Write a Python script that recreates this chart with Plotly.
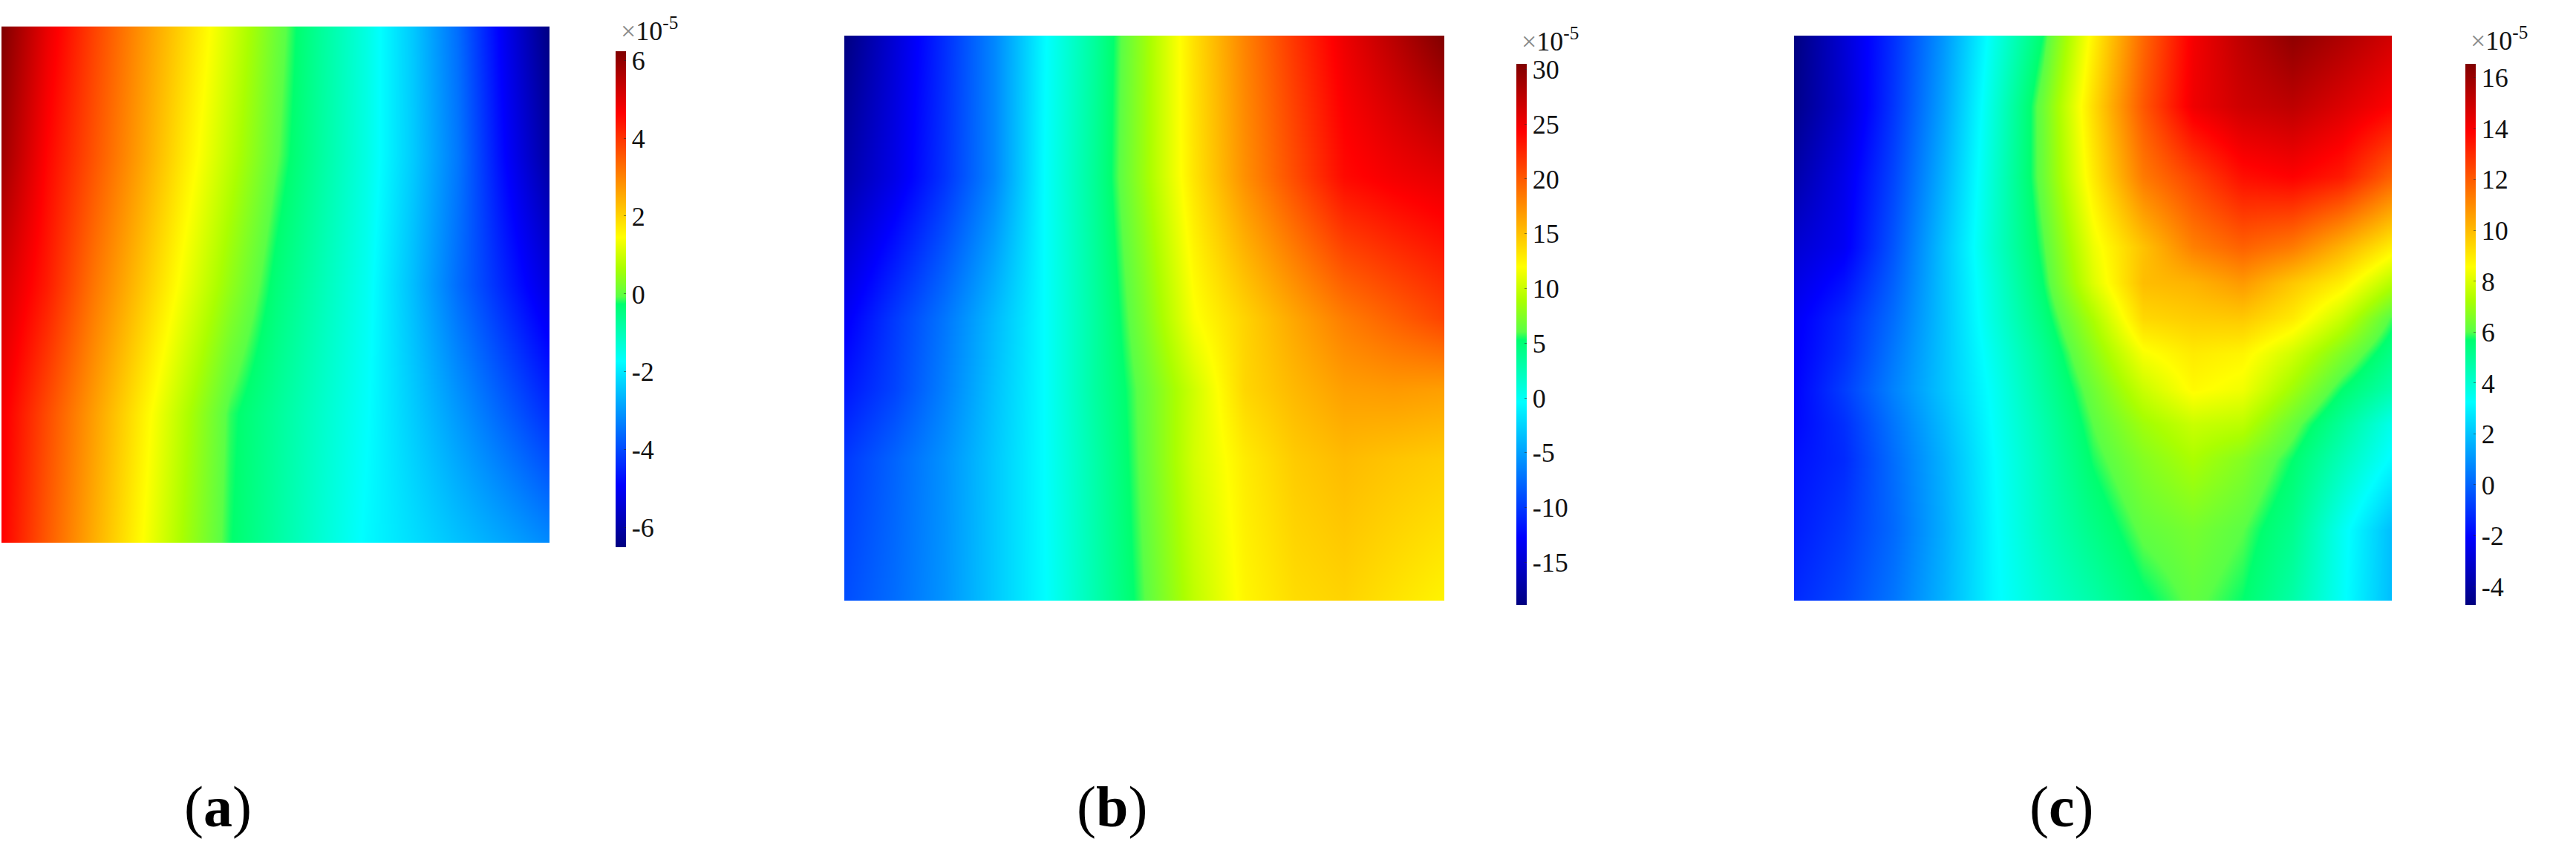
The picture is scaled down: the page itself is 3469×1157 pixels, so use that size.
import plotly.graph_objects as go

W, H = 3469, 1157

# Grid positions across each map (fraction of the map width / height, top to bottom)
cols = [0, 0.0833, 0.1667, 0.25, 0.3333, 0.4167, 0.5, 0.5833, 0.6667, 0.75, 0.8333, 0.9167, 1]
rows_a = [0, 0.25, 0.5, 0.75, 1]
rows_b = [0, 0.25, 0.5, 0.625, 0.75, 1]
rows_c = [0, 0.125, 0.25, 0.375, 0.4375, 0.5, 0.5625, 0.625, 0.6875, 0.75, 0.875, 1]

# Field values, in units of 1e-5
field_a = [
    [6.23, 4.91, 3.85, 2.87, 1.97, 1.05, 0.11, -0.70, -1.45, -2.41, -3.57, -5.10, -6.50],
    [5.85, 4.60, 3.63, 2.68, 1.72, 0.83, -0.03, -0.76, -1.47, -2.38, -3.43, -4.88, -6.12],
    [5.21, 4.31, 3.20, 2.25, 1.32, 0.43, -0.36, -0.98, -1.60, -2.55, -3.57, -4.48, -5.35],
    [4.77, 3.71, 2.69, 1.71, 0.76, -0.17, -0.68, -1.19, -1.70, -2.36, -3.02, -3.69, -4.34],
    [4.64, 3.53, 2.50, 1.53, 0.60, -0.24, -0.77, -1.29, -1.79, -2.13, -2.49, -2.83, -3.19],
]
field_b = [
    [-18.9, -14.75, -10.55, -6.20, -0.57, 3.53, 8.27, 13.51, 18.0, 21.8, 25.2, 27.8, 30.5],
    [-16.9, -13.9, -10.3, -6.2, -0.38, 3.77, 8.42, 13.26, 17.4, 20.7, 23.9, 24.9, 25.6],
    [-13.2, -10.0, -7.04, -3.73, -0.38, 3.33, 7.28, 11.8, 14.1, 16.3, 18.3, 19.7, 21.1],
    [-11.74, -9.51, -6.55, -3.34, -0.38, 3.33, 6.54, 10.25, 13.95, 15.43, 16.67, 16.92, 16.67],
    [-10.0, -7.93, -5.71, -3.04, -0.38, 2.98, 6.44, 10.4, 12.9, 14.5, 15.3, 14.8, 14.4],
    [-9.02, -7.49, -5.56, -3.0, -0.47, 2.74, 6.0, 9.65, 12.4, 13.65, 14.1, 13.3, 12.5],
]
field_c = [
    [-4.73, -2.96, -1.09, 1.06, 3.55, 5.72, 8.85, 11.74, 14.10, 15.29, 16.23, 15.59, 14.85],
    [-4.52, -3.03, -0.96, 1.29, 3.85, 6.31, 9.31, 12.08, 14.21, 14.95, 15.27, 14.63, 13.89],
    [-3.88, -2.52, -0.64, 1.61, 4.00, 6.27, 8.99, 11.36, 12.49, 13.61, 13.89, 13.36, 11.87],
    [-3.03, -2.28, -0.30, 1.95, 4.08, 5.91, 8.31, 9.85, 11.23, 11.87, 11.34, 10.17, 8.89],
    [-2.64, -1.75, -0.05, 1.97, 3.89, 5.70, 8.04, 9.95, 10.17, 10.70, 9.74, 8.89, 7.40],
    [-2.28, -1.26, 0.21, 1.97, 3.78, 5.40, 7.27, 9.38, 9.62, 9.70, 8.99, 7.68, 5.91],
    [-2.18, -1.11, 0.44, 2.00, 3.57, 5.06, 6.76, 8.46, 8.99, 8.78, 7.83, 6.55, 5.27],
    [-2.07, -0.81, 0.65, 2.02, 3.40, 4.85, 6.31, 7.74, 8.68, 8.36, 7.08, 5.70, 4.63],
    [-1.96, -1.11, 0.38, 1.80, 3.31, 4.63, 6.02, 7.08, 7.72, 7.51, 6.23, 4.95, 3.57],
    [-1.75, -1.22, 0.21, 1.63, 3.21, 4.48, 5.78, 6.65, 7.24, 6.65, 5.70, 4.42, 3.14],
    [-1.54, -0.90, 0.12, 1.53, 3.14, 4.31, 5.27, 6.12, 6.44, 6.02, 5.17, 3.46, 1.87],
    [-1.22, -0.58, 0.38, 1.65, 3.10, 4.00, 4.74, 5.59, 6.12, 5.70, 4.74, 3.36, 1.87],
]

ticks_a = [6, 4, 2, 0, -2, -4, -6]
ticks_b = [30, 25, 20, 15, 10, 5, 0, -5, -10, -15]
ticks_c = [16, 14, 12, 10, 8, 6, 4, 2, 0, -2, -4]

jet_like = [
    [0.0, "rgb(0,0,128)"], [0.125, "rgb(0,0,255)"], [0.25, "rgb(0,128,255)"],
    [0.375, "rgb(0,255,255)"], [0.49, "rgb(0,255,110)"], [0.505, "rgb(90,255,70)"],
    [0.5625, "rgb(170,255,0)"], [0.625, "rgb(255,255,0)"], [0.75, "rgb(255,128,0)"],
    [0.875, "rgb(255,0,0)"], [1.0, "rgb(128,0,0)"],
]

SERIF = "Liberation Serif"
panels = [
    dict(z=field_a, y=rows_a, ticks=ticks_a, zmin=-6.5, zmax=6.23,
         box=(2, 740, 35.4, 731), bar=(829, 69, 737), exp=(834, 40), lab=(293, "a")),
    dict(z=field_b, y=rows_b, ticks=ticks_b, zmin=-18.9, zmax=30.5,
         box=(1137, 1945, 48, 809), bar=(2042, 86, 815), exp=(2047, 53), lab=(1497, "b")),
    dict(z=field_c, y=rows_c, ticks=ticks_c, zmin=-4.73, zmax=16.55,
         box=(2416, 3221, 48, 809), bar=(3320, 86, 815), exp=(3325, 52), lab=(2776, "c")),
]

fig = go.Figure()
layout = dict(
    width=W, height=H, autosize=False,
    margin=dict(l=0, r=0, t=0, b=0),
    paper_bgcolor="white", plot_bgcolor="white",
    showlegend=False, annotations=[],
)

for i, p in enumerate(panels):
    sfx = "" if i == 0 else str(i + 1)
    x0, x1, y0, y1 = p["box"]
    bx, bt, bb = p["bar"]
    fig.add_trace(go.Heatmap(
        x=cols, y=p["y"], z=p["z"], zmin=p["zmin"], zmax=p["zmax"],
        colorscale=jet_like, zsmooth="best", hoverinfo="skip",
        xaxis="x" + sfx, yaxis="y" + sfx,
        colorbar=dict(
            x=bx / W, xanchor="left", xpad=0,
            y=1 - bt / H, yanchor="top", ypad=0,
            len=(bb - bt) / H, lenmode="fraction",
            thickness=14, thicknessmode="pixels",
            outlinewidth=0, borderwidth=0,
            tickmode="array", tickvals=p["ticks"],
            ticktext=[str(t) for t in p["ticks"]],
            ticks="inside", ticklen=3, tickwidth=1, tickcolor="rgba(40,40,40,0.55)",
            tickfont=dict(family=SERIF, size=36, color="#111111"),
        ),
    ))
    layout["xaxis" + sfx] = dict(domain=[x0 / W, x1 / W], range=[0, 1], visible=False,
                                 anchor="y" + sfx, fixedrange=True)
    layout["yaxis" + sfx] = dict(domain=[1 - y1 / H, 1 - y0 / H], range=[1, 0], visible=False,
                                 anchor="x" + sfx, fixedrange=True)
    ex, ey = p["exp"]
    layout["annotations"].append(dict(
        xref="paper", yref="paper", x=ex / W, y=1 - ey / H, xanchor="left", yanchor="middle",
        showarrow=False, align="left",
        text='<span style="color:#888888">×</span>10<sup>-5</sup>',
        font=dict(family=SERIF, size=36, color="#111111"),
    ))
    lx, letter = p["lab"]
    layout["annotations"].append(dict(
        xref="paper", yref="paper", x=lx / W, y=1 - 1086 / H, xanchor="center", yanchor="middle",
        showarrow=False, text=f"(<b>{letter}</b>)",
        font=dict(family=SERIF, size=78, color="black"),
    ))

fig.update_layout(**layout)
fig.write_html("out.html", config={"displayModeBar": False},
               post_script="document.body.style.margin='0';")
